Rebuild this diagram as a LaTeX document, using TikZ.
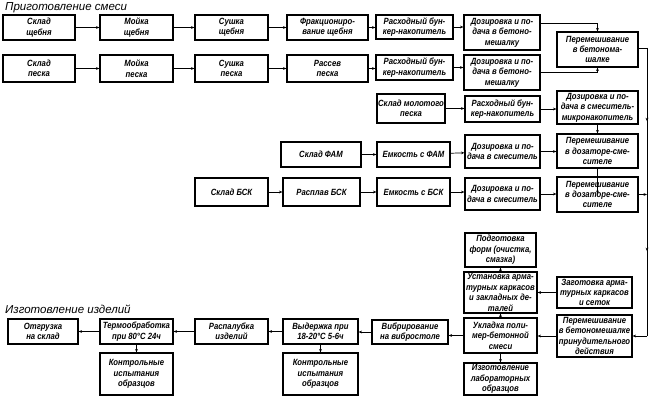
\documentclass[tikz,border=0pt]{standalone}
\usepackage{fontspec}
\setmainfont{Liberation Sans}
\newfontfamily\boxfont{Liberation Sans}[FakeStretch=0.86]
\usetikzlibrary{arrows.meta,calc}
\tikzset{
  box/.style={draw, line width=1.1pt, inner sep=0pt, align=center,
    font=\boxfont\bfseries\itshape\fontsize{9}{10.4}\selectfont},
  conn/.style={line width=0.7pt},
  arr/.style={line width=0.7pt, -{Stealth[length=3.5pt,width=2.8pt]}},
  ttl/.style={anchor=west, inner sep=0pt, font=\itshape\fontsize{11.5}{13}\selectfont}
}
\newcommand\bx[6]{\node[box, minimum width={#4pt-#2pt}, minimum height={#5pt-#3pt}] (#1) at ({(#2+#4)/2},{(#3+#5)/2}) {#6};}
\begin{document}
\begin{tikzpicture}[x=1pt,y=-1pt]
\useasboundingbox (0,0) rectangle (653,401);
\node[ttl] (t1) at (5,8) {Приготовление смеси};
\node[ttl] (t2) at (5,309) {Изготовление изделий};
% row 1
\bx{a1}{3}{15}{75}{40}{Склад\\щебня}
\bx{a2}{100}{15}{173}{40}{Мойка\\щебня}
\bx{a3}{195}{15}{268}{40}{Сушка\\щебня}
\bx{a4}{287}{15}{368}{40}{Фракциониро-\\вание щебня}
\bx{a5}{376}{15}{453}{39}{Расходный бун-\\кер-накопитель}
\bx{a6}{464}{15}{540}{50}{Дозировка и по-\\дача в бетоно-\\мешалку}
\bx{m1}{557}{32}{638}{67}{Перемешивание\\в бетонома-\\шалке}
% row 2
\bx{b1}{3}{55}{75}{82}{Склад\\песка}
\bx{b2}{100}{55}{173}{82}{Мойка\\песка}
\bx{b3}{195}{55}{268}{82}{Сушка\\песка}
\bx{b4}{287}{55}{368}{82}{Рассев\\песка}
\bx{b5}{376}{55}{453}{80}{Расходный бун-\\кер-накопитель}
\bx{b6}{464}{55}{540}{90}{Дозировка и по-\\дача в бетоно-\\мешалку}
% row 3
\bx{c1}{377}{94}{445}{123}{Склад молотого\\песка}
\bx{c2}{465}{96}{540}{122}{Расходный бун-\\кер-накопитель}
\bx{c3}{557}{91}{638}{124}{Дозировка и по-\\дача в смеситель-\\микронакопитель}
% row 4
\bx{d1}{281}{142}{361}{167}{Склад ФАМ}
\bx{d2}{377}{142}{450}{167}{Емкость с ФАМ}
\bx{d3}{465}{135}{540}{168}{Дозировка и по-\\дача в смеситель}
\bx{d4}{557}{134}{638}{168}{Перемешивание\\в дозаторе-сме-\\сителе}
% row 5
\bx{e1}{195}{178}{268}{206}{Склад БСК}
\bx{e2}{283}{178}{360}{206}{Расплав БСК}
\bx{e3}{377}{178}{450}{206}{Емкость с БСК}
\bx{e4}{465}{178}{540}{210}{Дозировка и по-\\дача в смеситель}
\bx{e5}{557}{177}{638}{212}{Перемешивание\\в дозаторе-сме-\\сителе}
% lower section
\bx{f1}{465}{233}{536}{267}{Подготовка\\форм (очистка,\\смазка)}
\bx{f2}{464}{272}{537}{313}{Установка арма-\\турных каркасов\\и закладных де-\\талей}
\bx{f3}{557}{277}{632}{308}{Заготовка арма-\\турных каркасов\\и сеток}
\bx{f4}{557}{315}{632}{357}{Перемешивание\\в бетономешалке\\принудительного\\действия}
\bx{f5}{464}{318}{537}{353}{Укладка поли-\\мер-бетонной\\смеси}
\bx{f6}{464}{363}{537}{395}{Изготовление\\лабораторных\\образцов}
\bx{g1}{372}{320}{448}{344}{Вибрирование\\на вибростоле}
\bx{g2}{283}{319}{358}{344}{Выдержка при\\18-20°C 5-6ч}
\bx{g3}{283}{353}{358}{395}{Контрольные\\испытания\\образцов}
\bx{g4}{195}{319}{268}{344}{Распалубка\\изделий}
\bx{g5}{100}{319}{173}{344}{Термообработка\\при 80°C 24ч}
\bx{g6}{100}{353}{173}{395}{Контрольные\\испытания\\образцов}
\bx{g7}{8}{319}{78}{344}{Отгрузка\\на склад}
% connectors row 1
\draw[arr] (a1) -- (a2);
\draw[arr] (a2) -- (a3);
\draw[arr] (a3) -- (a4);
\draw[arr] (a4.east) -- (a4.east -| a5.west);
\draw[arr] (a5.east) -- (a5.east -| a6.west);
\draw[arr] ([yshift=9pt]a6.east) -| (m1.north);
% row 2
\draw[arr] (b1) -- (b2);
\draw[arr] (b2) -- (b3);
\draw[arr] (b3) -- (b4);
\draw[arr] (b4.east) -- (b4.east -| b5.west);
\draw[arr] (b5.east) -- (b5.east -| b6.west);
\draw[arr] (b6.east) -| (m1.south);
% row 3
\draw[arr] (c1.east) -- (c1.east -| c2.west);
\draw[arr] (c2.east) -- (c2.east -| c3.west);
\draw[arr] (c3) -- (d4);
% row 4
\draw[arr] (d1) -- (d2);
\draw[arr] (d2) -- (d3);
\draw[arr] (d3.east) -- (d3.east -| d4.west);
\draw[arr] (d4) -- (e4 -| e5);
% row 5
\draw[arr] (e1) -- (e2);
\draw[arr] (e2) -- (e3);
\draw[arr] (e3.east) -- (e3.east -| e4.west);
\draw[arr] (e4.east) -- (e4.east -| e5.west);
% bus
\coordinate (k1) at (647,48);
\coordinate (k2) at (647,194.5);
\coordinate (k3) at (647,336);
\draw[conn] (m1.east |- k1) -- (k1) -- (k3);
\draw[arr] (k1) -- ($(k1)!0.5!(k2)$);
\draw[arr] (k2) -- ($(k2)!0.4!(k3)$);
\draw[arr] (e5.east) -- (e5.east -| k1);
\draw[arr] (k3) -- (k3 -| f4.east);
% lower arrows
\draw[arr] (f3.west) -- (f3.west -| f2.east);
\draw[arr] (f4.west) -- (f4.west -| f5.east);
\draw[arr] (f2.north) -- (f2.north |- f1.south);
\draw[arr] (f5.north) -- (f5.north |- f2.south);
\draw[arr] (f5.south) -- (f5.south |- f6.north);
\draw[arr] (f5.west) -- (f5.west -| g1.east);
\draw[arr] (g1.west) -- (g1.west -| g2.east);
\draw[arr] (g2.south) -- (g2.south |- g3.north);
\draw[arr] (g2.west) -- (g2.west -| g4.east);
\draw[arr] (g4) -- (g5);
\draw[arr] (g5) -- (g7);
\draw[arr] (g5) -- (g6);
\end{tikzpicture}
\end{document}
